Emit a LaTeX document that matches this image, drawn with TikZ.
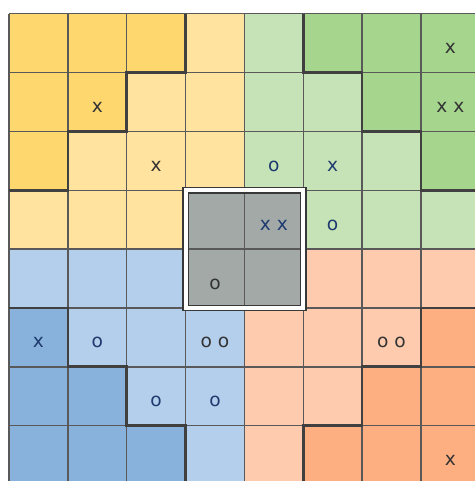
\documentclass[tikz,border=0pt]{standalone}
\usepackage{fontspec}
\newfontfamily\cellfont{DejaVu Sans}

\definecolor{ydark}{HTML}{FED86F}
\definecolor{ylight}{HTML}{FFE39E}
\definecolor{gdark}{HTML}{A6D58E}
\definecolor{glight}{HTML}{C5E3B6}
\definecolor{bdark}{HTML}{88B2DC}
\definecolor{blight}{HTML}{B4CFEB}
\definecolor{odark}{HTML}{FDAF81}
\definecolor{olight}{HTML}{FECBAE}
\definecolor{centre}{HTML}{A2A9A7}
\definecolor{navy}{HTML}{1E3A6E}
\definecolor{ink}{HTML}{333333}

\tikzset{
  gridline/.style={line width=0.7pt, draw=black!65},
  stair/.style={line width=1.3pt, draw=black!75, line join=miter},
  frame/.style={line width=0.7pt, draw=black!78, double=white, double distance=1.9pt},
  cellmark/.style={font=\cellfont\fontsize{9}{10}\selectfont, anchor=base, inner sep=0pt},
  dk/.style={cellmark, text=ink},
  nv/.style={cellmark, text=navy}
}

\begin{document}
\begin{tikzpicture}

  \useasboundingbox (-0.153, 0.06) rectangle (7.918, 8.233);
  \clip (-0.153, 0.06) rectangle (7.918, 8.233);

  % --- quadranti (chiaro) ---
  \fill[ylight] (0, 4) rectangle (4, 8);
  \fill[glight] (4, 4) rectangle (8, 8);
  \fill[blight] (0, 0) rectangle (4, 4);
  \fill[olight] (4, 0) rectangle (8, 4);

  % --- angoli (scuro) ---
  \fill[ydark] (0, 8) -- (3, 8) -- (3, 7) -- (2, 7) -- (2, 6) -- (1, 6) -- (1, 5) -- (0, 5) -- cycle;
  \fill[gdark] (5, 8) -- (8, 8) -- (8, 5) -- (7, 5) -- (7, 6) -- (6, 6) -- (6, 7) -- (5, 7) -- cycle;
  \fill[bdark] (0, 3) -- (1, 3) -- (1, 2) -- (2, 2) -- (2, 1) -- (3, 1) -- (3, 0) -- (0, 0) -- cycle;
  \fill[odark] (8, 3) -- (7, 3) -- (7, 2) -- (6, 2) -- (6, 1) -- (5, 1) -- (5, 0) -- (8, 0) -- cycle;

  % --- centro ---
  \fill[centre] (3, 3) rectangle (5, 5);

  % --- griglia ---
  \draw[gridline] (0, 0) grid (8, 8);

  % --- scale ---
  \draw[stair] (3, 8) -- (3, 7) -- (2, 7) -- (2, 6) -- (1, 6) -- (1, 5) -- (0, 5);
  \draw[stair] (5, 8) -- (5, 7) -- (6, 7) -- (6, 6) -- (7, 6) -- (7, 5) -- (8, 5);
  \draw[stair] (0, 3) -- (1, 3) -- (1, 2) -- (2, 2) -- (2, 1) -- (3, 1) -- (3, 0);
  \draw[stair] (8, 3) -- (7, 3) -- (7, 2) -- (6, 2) -- (6, 1) -- (5, 1) -- (5, 0);

  % --- cornice doppia ---
  \draw[frame] (3, 3) rectangle (5, 5);

  % --- segni ---
  \node[dk] (r0c7) at (7.5, 7.32) {x};
  \node[dk] (r1c1) at (1.5, 6.32) {x};
  \node[dk] (r1c7) at (7.5, 6.32) {x x};
  \node[dk] (r2c2) at (2.5, 5.32) {x};
  \node[nv] (r2c4) at (4.5, 5.32) {o};
  \node[nv] (r2c5) at (5.5, 5.32) {x};
  \node[nv] (r3c4) at (4.5, 4.32) {x x};
  \node[nv] (r3c5) at (5.5, 4.32) {o};
  \node[dk] (r4c3) at (3.5, 3.32) {o};
  \node[nv] (r5c0) at (0.5, 2.32) {x};
  \node[nv] (r5c1) at (1.5, 2.32) {o};
  \node[dk] (r5c3) at (3.5, 2.32) {o o};
  \node[dk] (r5c6) at (6.5, 2.32) {o o};
  \node[nv] (r6c2) at (2.5, 1.32) {o};
  \node[nv] (r6c3) at (3.5, 1.32) {o};
  \node[dk] (r7c7) at (7.5, 0.32) {x};

\end{tikzpicture}
\end{document}
